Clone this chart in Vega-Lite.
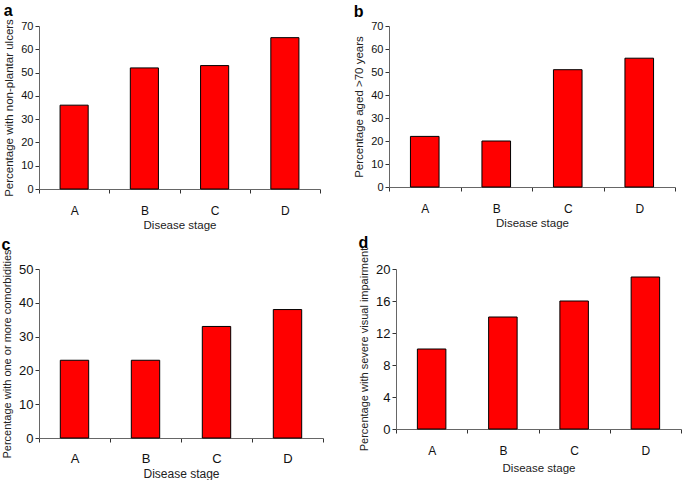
{
  "$schema": "https://vega.github.io/schema/vega-lite/v6.json",
  "background": "white",
  "padding": {"left": 1, "top": 2, "right": 1, "bottom": 1},
  "spacing": 4,
  "datasets": {
    "a": [{"stage": "A", "value": 36}, {"stage": "B", "value": 52}, {"stage": "C", "value": 53}, {"stage": "D", "value": 65}],
    "b": [{"stage": "A", "value": 22}, {"stage": "B", "value": 20}, {"stage": "C", "value": 51}, {"stage": "D", "value": 56}],
    "c": [{"stage": "A", "value": 23}, {"stage": "B", "value": 23}, {"stage": "C", "value": 33}, {"stage": "D", "value": 38}],
    "d": [{"stage": "A", "value": 10}, {"stage": "B", "value": 14}, {"stage": "C", "value": 16}, {"stage": "D", "value": 19}]
  },
  "config": {
    "font": "Liberation Sans",
    "view": {"stroke": null},
    "axis": {
      "grid": false,
      "domainColor": "#666",
      "tickColor": "#333",
      "tickSize": 4,
      "labelColor": "#111",
      "titleColor": "#222",
      "titleFontWeight": "normal",
      "labelFontSize": 12,
      "titleFontSize": 11.5
    },
    "axisX": {"labelAngle": 0, "tickBand": "extent", "labelPadding": 12, "titlePadding": 3},
    "axisY": {"titlePadding": 6},
    "bar": {"fill": "#ff0000", "stroke": "#000", "strokeWidth": 1},
    "title": {"anchor": "start", "frame": "bounds", "fontSize": 16, "fontWeight": "bold", "color": "#000"}
  },
  "vconcat": [
    {
      "spacing": 32,
      "hconcat": [
        {
          "title": {"text": "a", "offset": 0},
          "data": {"name": "a"},
          "width": 281, "height": 163,
          "mark": {"type": "bar", "width": {"band": 0.4}},
          "encoding": {
            "x": {"field": "stage", "type": "nominal", "title": "Disease stage", "scale": {"paddingInner": 0, "paddingOuter": 0}},
            "y": {"field": "value", "type": "quantitative", "title": "Percentage with non-plantar ulcers", "scale": {"domain": [0, 70]}, "axis": {"values": [0, 10, 20, 30, 40, 50, 60, 70], "labelFontSize": 11}}
          }
        },
        {
          "title": {"text": "b", "offset": 0},
          "data": {"name": "b"},
          "width": 286, "height": 161,
          "mark": {"type": "bar", "width": {"band": 0.4}},
          "encoding": {
            "x": {"field": "stage", "type": "nominal", "title": "Disease stage", "scale": {"paddingInner": 0, "paddingOuter": 0}},
            "y": {"field": "value", "type": "quantitative", "title": "Percentage aged >70 years", "scale": {"domain": [0, 70]}, "axis": {"values": [0, 10, 20, 30, 40, 50, 60, 70], "labelFontSize": 11}}
          }
        }
      ]
    },
    {
      "spacing": 34,
      "hconcat": [
        {
          "title": {"text": "c", "offset": -4},
          "data": {"name": "c"},
          "width": 284, "height": 169,
          "mark": {"type": "bar", "width": {"band": 0.4}},
          "encoding": {
            "x": {"field": "stage", "type": "nominal", "title": "Disease stage", "scale": {"paddingInner": 0, "paddingOuter": 0}, "axis": {"labelPadding": 10, "labelFontSize": 13, "titleFontSize": 12}},
            "y": {"field": "value", "type": "quantitative", "title": "Percentage with one or more comorbidities", "scale": {"domain": [0, 50]}, "axis": {"values": [0, 10, 20, 30, 40, 50], "labelFontSize": 13, "titleFontSize": 11}}
          }
        },
        {
          "title": {"text": "d", "offset": -4},
          "data": {"name": "d"},
          "width": 285, "height": 160,
          "mark": {"type": "bar", "width": {"band": 0.4}},
          "encoding": {
            "x": {"field": "stage", "type": "nominal", "title": "Disease stage", "scale": {"paddingInner": 0, "paddingOuter": 0}, "axis": {"labelPadding": 12, "titlePadding": 6}},
            "y": {"field": "value", "type": "quantitative", "title": "Percentage with severe visual impairment", "scale": {"domain": [0, 20]}, "axis": {"values": [0, 4, 8, 12, 16, 20], "labelFontSize": 13, "titleFontSize": 11}}
          }
        }
      ]
    }
  ]
}
